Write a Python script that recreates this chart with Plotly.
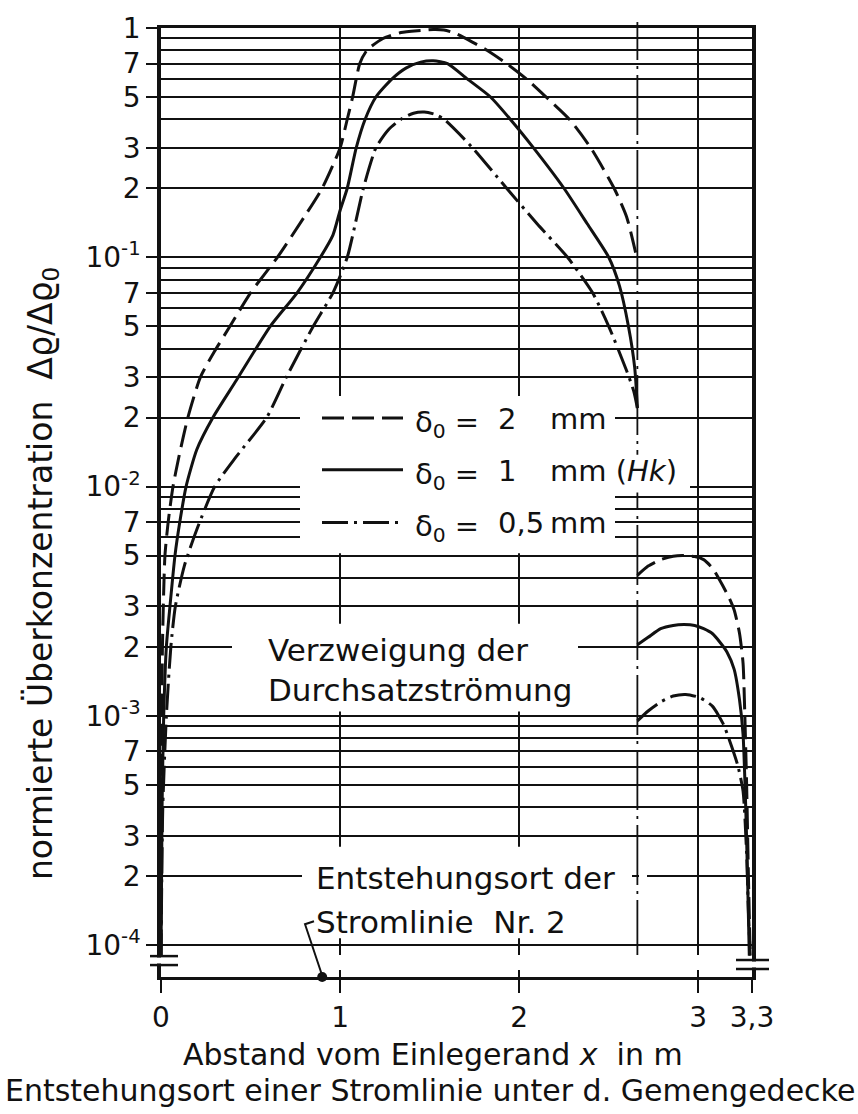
import plotly.graph_objects as go

# ---------------- data ----------------
# x: Abstand vom Einlegerand in m ; y: normierte Überkonzentration
DASHED_X_LEFT = [0.0, 0.003, 0.008, 0.022, 0.04, 0.067, 0.1, 0.15, 0.22, 0.3, 0.385, 0.5, 0.65, 0.8, 0.9,
                 1.0, 1.04, 1.07, 1.11, 1.15, 1.24, 1.34, 1.45, 1.52, 1.58, 1.64, 1.69, 1.76, 1.82, 1.93,
                 2.04, 2.15, 2.28, 2.40, 2.53, 2.6, 2.66]
DASHED_Y_LEFT = [9e-5, 5e-4, 2e-3, 5e-3, 7e-3, 1e-2, 1.35e-2, 2e-2, 3e-2, 3.9e-2, 5e-2, 7e-2, 0.1, 0.15, 0.2,
                 0.3, 0.4, 0.5, 0.7, 0.8, 0.9, 0.955, 0.975, 0.985, 0.98, 0.95, 0.91, 0.85, 0.8, 0.7,
                 0.6, 0.5, 0.4, 0.3, 0.2, 0.15, 0.097]
DASHED_X_RIGHT = [2.66, 2.72, 2.79, 2.86, 2.92, 2.98, 3.03, 3.08, 3.12, 3.17, 3.2, 3.23, 3.25, 3.26, 3.27,
                  3.28, 3.29]
DASHED_Y_RIGHT = [0.0041, 0.0045, 0.0048, 0.00497, 0.0050, 0.00495, 0.0048, 0.0044, 0.0039, 0.0033, 0.0029,
                  0.0023, 0.0017, 0.001, 5e-4, 2e-4, 9e-5]

SOLID_X_LEFT = [0.0, 0.006, 0.015, 0.03, 0.05, 0.078, 0.105, 0.14, 0.2, 0.29, 0.42, 0.61, 0.76, 0.89, 0.96,
                1.0, 1.04, 1.09, 1.14, 1.2, 1.29, 1.37, 1.45, 1.52, 1.6, 1.71, 1.84, 1.95, 2.08, 2.25,
                2.38, 2.5, 2.56, 2.61, 2.645, 2.66]
SOLID_Y_LEFT = [9e-5, 4e-4, 1e-3, 2e-3, 3e-3, 5e-3, 7e-3, 1e-2, 1.45e-2, 2e-2, 2.9e-2, 5e-2, 7e-2, 0.1, 0.125,
                0.16, 0.2, 0.3, 0.4, 0.5, 0.6, 0.67, 0.71, 0.72, 0.7, 0.6, 0.5, 0.4, 0.3, 0.2,
                0.14, 0.1, 0.075, 0.05, 0.033, 0.022]
SOLID_X_RIGHT = [2.66, 2.72, 2.79, 2.86, 2.92, 2.98, 3.03, 3.08, 3.12, 3.16, 3.2, 3.23, 3.25, 3.265, 3.275,
                 3.285]
SOLID_Y_RIGHT = [0.00204, 0.0022, 0.0024, 0.00248, 0.0025, 0.00248, 0.0024, 0.00228, 0.0021, 0.0019, 0.0016,
                 0.00118, 8.3e-4, 4e-4, 2e-4, 9e-5]

DASHDOT_X_LEFT = [0.0, 0.01, 0.03, 0.055, 0.08, 0.13, 0.2, 0.30, 0.42, 0.59, 0.7, 0.85, 0.96, 1.04, 1.13,
                  1.2, 1.27, 1.34, 1.41, 1.47, 1.53, 1.58, 1.74, 1.93, 2.1, 2.27, 2.41, 2.5, 2.6, 2.64, 2.66]
DASHDOT_Y_LEFT = [9e-5, 4e-4, 1e-3, 2e-3, 3e-3, 4.5e-3, 6.5e-3, 1e-2, 1.35e-2, 2e-2, 3e-2, 5e-2, 7e-2, 0.1, 0.2,
                  0.3, 0.36, 0.4, 0.425, 0.43, 0.42, 0.4, 0.3, 0.2, 0.14, 0.1, 0.07, 0.05, 0.032, 0.026, 0.022]
DASHDOT_X_RIGHT = [2.66, 2.72, 2.79, 2.86, 2.93, 3.01, 3.08, 3.14, 3.18, 3.22, 3.25, 3.27, 3.28, 3.29]
DASHDOT_Y_RIGHT = [9.5e-4, 1.05e-3, 1.15e-3, 1.22e-3, 1.24e-3, 1.2e-3, 1.1e-3, 9.2e-4, 7.6e-4, 6.1e-4, 4.7e-4,
                   2.5e-4, 1.4e-4, 9e-5]

SERIES_LABELS = ["2", "1", "0,5"]
SERIES_UNITS = ["mm", "mm (<i>Hk</i>)", "mm"]

BRANCH_X = 2.66          # Verzweigung der Durchsatzströmung
ORIGIN_X = 0.9           # Entstehungsort der Stromlinie Nr. 2

X_RANGE = [0, 3.3]
X_TICKS = [0, 1, 2, 3, 3.3]
X_TICKTEXT = ["0", "1", "2", "3", "3,3"]

DECADES = [0, -1, -2, -3, -4]
LABELED_DIGITS = [7, 5, 3, 2]
UNLABELED_DIGITS = [9, 8, 6, 4]

Y_LOG_RANGE = [-4.139, 0.0]

# ---------------- layout helpers (pixel estimates -> paper / data) ----------------
L, R, T, B = 161, 752, 23, 977
W, H = 858, 1114


def pxx(px):
    return (px - L) / (R - L)


def pxy(py):
    return (B - py) / (B - T)


def dx(px):  # pixel -> data x
    return X_RANGE[0] + pxx(px) * (X_RANGE[1] - X_RANGE[0])


def dy(py):  # pixel -> data y (log axis, shapes use data values)
    return 10 ** (Y_LOG_RANGE[0] + pxy(py) * (Y_LOG_RANGE[1] - Y_LOG_RANGE[0]))


FONT = "DejaVu Sans"
BLACK = "#111111"

# y ticks
y_major_vals, y_major_text, y_minor_vals = [], [], []
for d in DECADES:
    base = 10.0 ** d
    y_major_vals.append(base)
    y_major_text.append("1" if d == 0 else "10<sup>%d</sup>" % d)
    if d > DECADES[-1]:
        for k in LABELED_DIGITS:
            y_major_vals.append(k * base / 10)
            y_major_text.append(str(k))
        for k in UNLABELED_DIGITS:
            y_minor_vals.append(k * base / 10)

fig = go.Figure()

DASH_2 = "22px,8px"
DASH_05 = "26px,6px,3px,6px"


def join(a, b):
    return a + [None] + b


fig.add_trace(go.Scatter(x=join(DASHED_X_LEFT, DASHED_X_RIGHT), y=join(DASHED_Y_LEFT, DASHED_Y_RIGHT),
                         mode="lines", line=dict(color=BLACK, width=3, dash=DASH_2, shape="spline", smoothing=0.6),
                         connectgaps=False, showlegend=False, hoverinfo="skip"))
fig.add_trace(go.Scatter(x=join(SOLID_X_LEFT, SOLID_X_RIGHT), y=join(SOLID_Y_LEFT, SOLID_Y_RIGHT),
                         mode="lines", line=dict(color=BLACK, width=3, shape="spline", smoothing=0.6),
                         connectgaps=False, showlegend=False, hoverinfo="skip"))
fig.add_trace(go.Scatter(x=join(DASHDOT_X_LEFT, DASHDOT_X_RIGHT), y=join(DASHDOT_Y_LEFT, DASHDOT_Y_RIGHT),
                         mode="lines", line=dict(color=BLACK, width=3, dash=DASH_05, shape="spline", smoothing=0.6),
                         connectgaps=False, showlegend=False, hoverinfo="skip"))
# origin point of stream line no. 2
fig.add_trace(go.Scatter(x=[ORIGIN_X], y=[10 ** Y_LOG_RANGE[0]], mode="markers",
                         marker=dict(color=BLACK, size=10), cliponaxis=False, showlegend=False, hoverinfo="skip"))

shapes = []
# branch line (dash-dot vertical), between grid and traces
shapes.append(dict(type="line", xref="x", yref="y", x0=BRANCH_X, x1=BRANCH_X, y0=dy(960), y1=1.0,
                   line=dict(color=BLACK, width=1.8, dash="60px,6px,3px,6px"), layer="between"))
# white masks interrupting the grid behind text (axis-referenced so they sit between grid and traces)
masks = [
    (300, 615, 393, 551),   # legend
    (615, 690, 452, 490),   # (Hk)
    (232, 578, 622, 710),   # Verzweigung ...
    (302, 632, 846, 938),   # Entstehungsort ...
    (639, 647, 865, 885),
]
for x0, x1, y0, y1 in masks:
    shapes.append(dict(type="rect", xref="x", yref="y", x0=dx(x0), x1=dx(x1), y0=dy(y1), y1=dy(y0),
                       fillcolor="white", line=dict(width=0), layer="between"))
# axis break gaps
for x0, x1, y0, y1 in [(140, 185, 957.5, 963.5), (185, 730, 955, 970), (730, 775, 961.5, 967.5)]:
    shapes.append(dict(type="rect", xref="paper", yref="paper", x0=pxx(x0), x1=pxx(x1), y0=pxy(y1), y1=pxy(y0),
                       fillcolor="white", line=dict(width=0), layer="above"))
# axis break marks
for x0, x1, py in [(150, 178, 956), (150, 178, 965), (736, 769, 960), (736, 769, 969)]:
    shapes.append(dict(type="line", xref="paper", yref="paper", x0=pxx(x0), x1=pxx(x1), y0=pxy(py), y1=pxy(py),
                       line=dict(color=BLACK, width=2.5), layer="above"))
# small extension of the branch line above the frame
shapes.append(dict(type="line", xref="x", yref="paper", x0=BRANCH_X, x1=BRANCH_X, y0=1.0, y1=pxy(17),
                   line=dict(color=BLACK, width=1.8), layer="above"))
# leader line to the origin point
shapes.append(dict(type="path", xref="paper", yref="paper",
                   path="M %.4f,%.4f L %.4f,%.4f L %.4f,%.4f" % (pxx(322), pxy(975), pxx(305), pxy(924),
                                                                 pxx(314), pxy(921)),
                   line=dict(color=BLACK, width=2), layer="above"))

# legend samples
legend_rows_py = [415, 467, 520]
legend_dashes = [DASH_2, "solid", DASH_05]
for py, dsh in zip(legend_rows_py, legend_dashes):
    shapes.append(dict(type="line", xref="paper", yref="paper", x0=pxx(322), x1=pxx(403), y0=pxy(py), y1=pxy(py),
                       line=dict(color=BLACK, width=3, dash=dsh), layer="above"))

annotations = []


def txt(text, px, py, size=31, xanchor="left", angle=0):
    annotations.append(dict(text=text, xref="paper", yref="paper", x=pxx(px), y=pxy(py), showarrow=False,
                            xanchor=xanchor, yanchor="middle", textangle=angle,
                            font=dict(family=FONT, size=size, color=BLACK)))


for py, lab, unit in zip(legend_rows_py, SERIES_LABELS, SERIES_UNITS):
    txt("δ<sub>0</sub> =", 413, py + 6, size=29)
    txt(lab, 496, py + 1, size=29)
    txt(unit, 548, py + 1, size=29)

txt("Verzweigung der", 266, 648)
txt("Durchsatzströmung", 266, 688)
txt("Entstehungsort der", 314, 877)
txt("Stromlinie  Nr. 2", 314, 922)

txt("normierte Überkonzentration  Δϱ/Δϱ<sub>0</sub>", 42, 572, size=33, xanchor="center", angle=-90)
txt("Abstand vom Einlegerand <i>x</i>  in m", 433, 1055, size=30, xanchor="center")
txt("Entstehungsort einer Stromlinie unter d. Gemengedecke", 430, 1091, size=30, xanchor="center")

fig.update_layout(
    width=W, height=H,
    margin=dict(l=L, r=W - R, t=T, b=H - B, pad=0),
    paper_bgcolor="white", plot_bgcolor="white",
    shapes=shapes, annotations=annotations,
    showlegend=False,
    xaxis=dict(range=X_RANGE, tickmode="array", tickvals=X_TICKS, ticktext=X_TICKTEXT,
               showgrid=True, gridcolor=BLACK, gridwidth=1.6, zeroline=False,
               showline=True, linecolor=BLACK, linewidth=3, mirror=True,
               ticks="outside", ticklen=13, tickwidth=2, tickcolor=BLACK,
               tickfont=dict(family=FONT, size=28, color=BLACK)),
    yaxis=dict(type="log", range=Y_LOG_RANGE, tickmode="array", tickvals=y_major_vals, ticktext=y_major_text,
               showgrid=True, gridcolor=BLACK, gridwidth=2, zeroline=False,
               showline=True, linecolor=BLACK, linewidth=3.5, mirror=True,
               ticks="outside", ticklen=11, tickwidth=2, tickcolor=BLACK,
               tickfont=dict(family=FONT, size=28, color=BLACK),
               minor=dict(tickmode="array", tickvals=y_minor_vals, showgrid=True, gridcolor=BLACK,
                          gridwidth=2, ticks="")),
)

fig.write_html("out.html", config={"displayModeBar": False},
               post_script="document.body.style.margin='0';")
